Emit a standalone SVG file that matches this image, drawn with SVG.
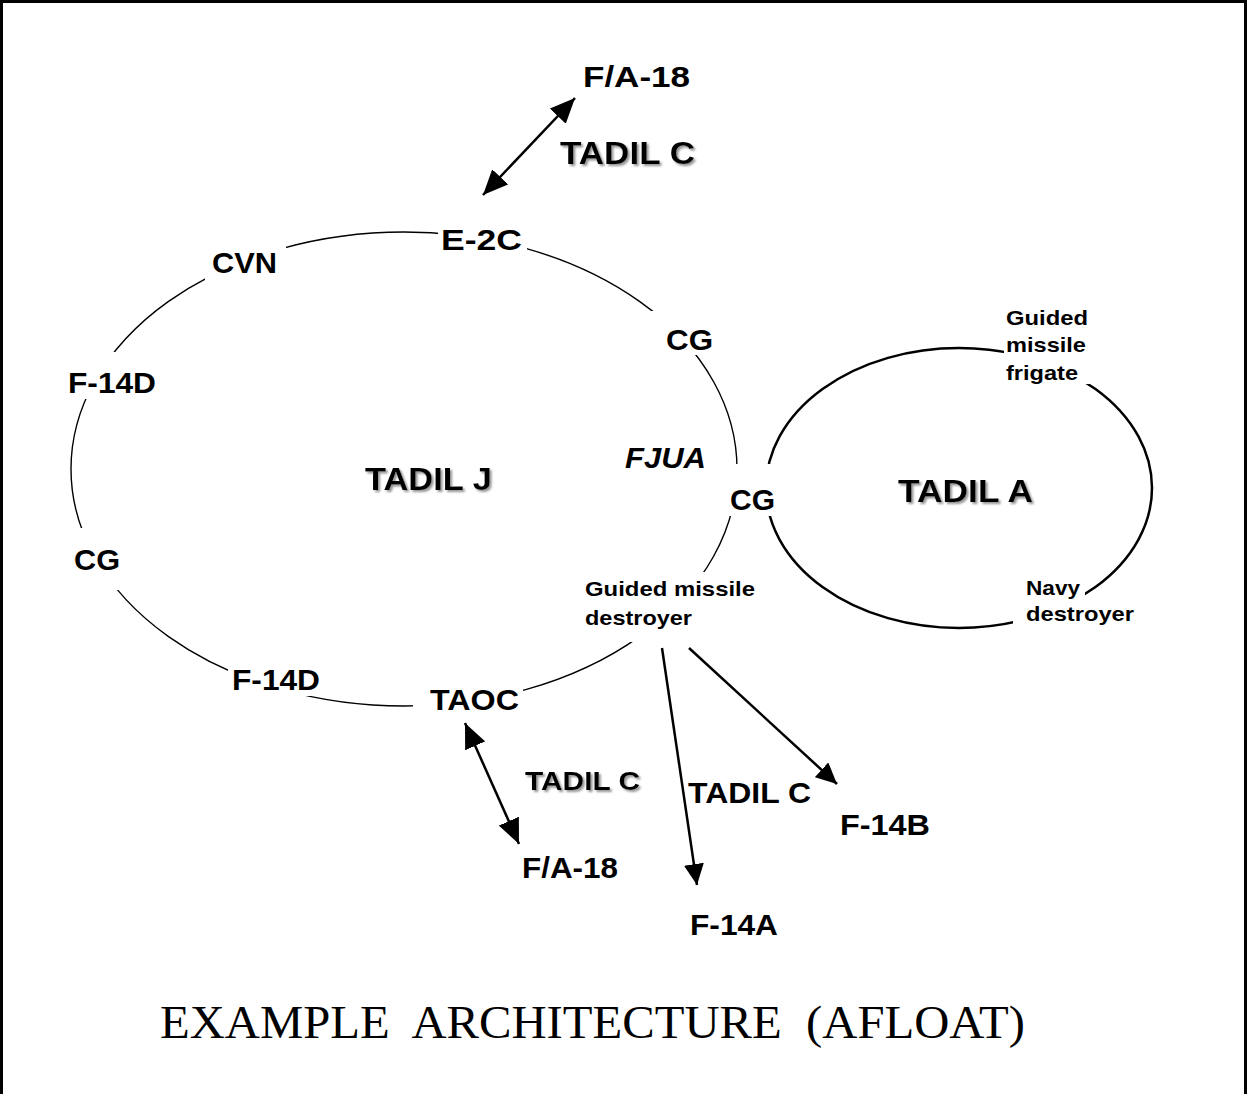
<svg xmlns="http://www.w3.org/2000/svg" width="1247" height="1094" viewBox="0 0 1247 1094">
<style>
.lbl{font-family:"Liberation Sans",Arial,sans-serif;font-weight:bold;font-size:30px;fill:#000}
.sm{font-family:"Liberation Sans",Arial,sans-serif;font-weight:bold;font-size:21px;fill:#000}
.mid{font-family:"Liberation Sans",Arial,sans-serif;font-weight:bold;font-size:26px;fill:#000}
.net{font-family:"Liberation Sans",Arial,sans-serif;font-weight:bold;font-size:31px;fill:#000}
.title{font-family:"Liberation Serif","Times New Roman",serif;font-size:46px;fill:#000}
.arr{stroke:#000;stroke-width:2.5;fill:none}
</style>
<defs>
<marker id="ah" markerUnits="userSpaceOnUse" markerWidth="26" markerHeight="22" refX="25" refY="11" orient="auto-start-reverse"><path d="M0,0 L25,11 L0,22 z" fill="#000"/></marker>
<marker id="as" markerUnits="userSpaceOnUse" markerWidth="22" markerHeight="20" refX="21" refY="10" orient="auto"><path d="M0,0 L21,10 L0,20 z" fill="#000"/></marker>
<filter id="sh" x="-10%" y="-20%" width="130%" height="160%"><feDropShadow dx="2" dy="2" stdDeviation="1" flood-color="#888" flood-opacity="0.9"/></filter>
<mask id="mJ" maskUnits="userSpaceOnUse" x="0" y="0" width="1247" height="1094">
<rect width="1247" height="1094" fill="#fff"/>
<rect x="205" y="240" width="81" height="48" fill="#000"/>
<rect x="438" y="222" width="89" height="33" fill="#000"/>
<rect x="650" y="311" width="50" height="44" fill="#000"/>
<rect x="725" y="464" width="57" height="52" fill="#000"/>
<rect x="580" y="572" width="180" height="28" fill="#000"/>
<rect x="580" y="600" width="120" height="42" fill="#000"/>
<rect x="413" y="680" width="110" height="35" fill="#000"/>
<rect x="228" y="660" width="94" height="36" fill="#000"/>
<rect x="70" y="528" width="56" height="62" fill="#000"/>
<rect x="65" y="352" width="95" height="47" fill="#000"/>
</mask>
<mask id="mA" maskUnits="userSpaceOnUse" x="0" y="0" width="1247" height="1094">
<rect width="1247" height="1094" fill="#fff"/>
<rect x="725" y="464" width="57" height="52" fill="#000"/>
<rect x="1004" y="300" width="86" height="84" fill="#000"/>
<rect x="1013" y="575" width="72" height="65" fill="#000"/>
</mask>
</defs>
<rect x="1.5" y="1.5" width="1244" height="1200" fill="#fff" stroke="#000" stroke-width="3"/>
<g id="tadil-j">
<ellipse cx="404" cy="469" rx="333" ry="237" fill="none" stroke="#000" stroke-width="1.4" mask="url(#mJ)"/>
<text class="net" x="365" y="490" textLength="127" lengthAdjust="spacingAndGlyphs" filter="url(#sh)">TADIL J</text>
</g>
<g id="tadil-a">
<ellipse cx="959" cy="488" rx="193" ry="140" fill="none" stroke="#000" stroke-width="2.5" mask="url(#mA)"/>
<text class="net" x="898" y="502" textLength="135" lengthAdjust="spacingAndGlyphs" filter="url(#sh)">TADIL A</text>
</g>
<g id="connectors">
<line class="arr" x1="483" y1="195" x2="575" y2="98" marker-start="url(#ah)" marker-end="url(#ah)"/>
<line class="arr" x1="465" y1="723" x2="519" y2="844" marker-start="url(#ah)" marker-end="url(#ah)"/>
<line class="arr" x1="662" y1="648" x2="697" y2="885" marker-end="url(#as)"/>
<line class="arr" x1="689" y1="648" x2="837" y2="784" marker-end="url(#as)"/>
</g>
<g id="fa18-top"><text class="lbl" x="583" y="87" textLength="107" lengthAdjust="spacingAndGlyphs">F/A-18</text></g>
<g id="tadil-c-top"><text class="net" x="560" y="164" textLength="135" lengthAdjust="spacingAndGlyphs" filter="url(#sh)">TADIL C</text></g>
<g id="e2c"><text class="lbl" x="441" y="250" textLength="81" lengthAdjust="spacingAndGlyphs">E-2C</text></g>
<g id="cvn"><text class="lbl" x="212" y="273" textLength="65" lengthAdjust="spacingAndGlyphs">CVN</text></g>
<g id="cg-upper"><text class="lbl" x="666" y="350" textLength="47" lengthAdjust="spacingAndGlyphs">CG</text></g>
<g id="f14d-left"><text class="lbl" x="68" y="393" textLength="88" lengthAdjust="spacingAndGlyphs">F-14D</text></g>
<g id="fjua"><text class="lbl" x="625" y="468" font-style="italic" textLength="81" lengthAdjust="spacingAndGlyphs">FJUA</text></g>
<g id="cg-mid"><text class="lbl" x="730" y="510" textLength="45" lengthAdjust="spacingAndGlyphs">CG</text></g>
<g id="frigate"><text class="sm" x="1006" y="325" textLength="82" lengthAdjust="spacingAndGlyphs">Guided</text><text class="sm" x="1006" y="352" textLength="80" lengthAdjust="spacingAndGlyphs">missile</text><text class="sm" x="1006" y="380" textLength="72" lengthAdjust="spacingAndGlyphs">frigate</text></g>
<g id="cg-left"><text class="lbl" x="74" y="570" textLength="46" lengthAdjust="spacingAndGlyphs">CG</text></g>
<g id="gm-destroyer"><text class="sm" x="585" y="596" textLength="170" lengthAdjust="spacingAndGlyphs">Guided missile</text><text class="sm" x="585" y="625" textLength="107" lengthAdjust="spacingAndGlyphs">destroyer</text></g>
<g id="navy-destroyer"><text class="sm" x="1026" y="595" textLength="54" lengthAdjust="spacingAndGlyphs">Navy</text><text class="sm" x="1026" y="621" textLength="108" lengthAdjust="spacingAndGlyphs">destroyer</text></g>
<g id="f14d-bottom"><text class="lbl" x="232" y="690" textLength="88" lengthAdjust="spacingAndGlyphs">F-14D</text></g>
<g id="taoc"><text class="lbl" x="430" y="710" textLength="89" lengthAdjust="spacingAndGlyphs">TAOC</text></g>
<g id="tadil-c-left"><text class="mid" x="525" y="790" textLength="115" lengthAdjust="spacingAndGlyphs" filter="url(#sh)">TADIL C</text></g>
<g id="tadil-c-right"><text class="lbl" x="688" y="803" textLength="123" lengthAdjust="spacingAndGlyphs">TADIL C</text></g>
<g id="f14b"><text class="lbl" x="840" y="835" textLength="90" lengthAdjust="spacingAndGlyphs">F-14B</text></g>
<g id="fa18-bottom"><text class="lbl" x="522" y="878" textLength="96" lengthAdjust="spacingAndGlyphs">F/A-18</text></g>
<g id="f14a"><text class="lbl" x="690" y="935" textLength="88" lengthAdjust="spacingAndGlyphs">F-14A</text></g>
<text class="title" x="160" y="1038" xml:space="preserve" textLength="865" lengthAdjust="spacingAndGlyphs">EXAMPLE  ARCHITECTURE  (AFLOAT)</text>
</svg>
